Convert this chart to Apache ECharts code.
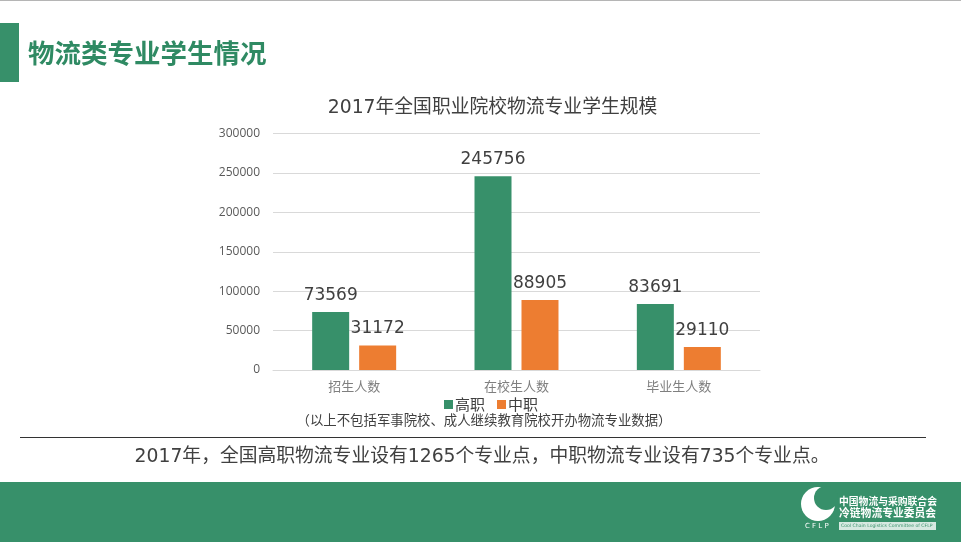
<!DOCTYPE html>
<html>
<head>
<meta charset="utf-8">
<style>
  html, body { margin: 0; padding: 0; background: #fff; }
  #chart { width: 961px; height: 542px; }
</style>
<script src="https://cdn.jsdelivr.net/npm/echarts@6/dist/echarts.min.js"></script>
</head>
<body>
<div id="chart"></div>
<script>
const categories = ["招生人数", "在校生人数", "毕业生人数"];
const gaozhi = [73569, 245756, 83691];
const zhongzhi = [31172, 88905, 29110];

const GREEN = "#37906a";
const ORANGE = "#ed7d31";
const CJK = '"Noto Sans CJK SC", "DejaVu Sans", sans-serif';
const WIDE = '"DejaVu Sans", "Noto Sans CJK SC", sans-serif';

function barLabel() {
  return { show: true, position: "top", distance: 8, fontFamily: WIDE, fontSize: 17, color: "#404040" };
}

const chart = echarts.init(document.getElementById("chart"));

chart.setOption({
  animation: false,
  backgroundColor: "#fff",
  title: {
    text: "2017年全国职业院校物流专业学生规模",
    left: 487.5,
    top: 94,
    textAlign: "center",
    textStyle: { fontFamily: WIDE, fontSize: 18.8, fontWeight: "normal", color: "#404040" }
  },
  legend: {
    left: 439,
    top: 392,
    itemWidth: 9,
    itemHeight: 9,
    itemGap: 12,
    icon: "rect",
    textStyle: { fontFamily: CJK, fontSize: 15, color: "#404040", padding: [0, 0, 0, -3] },
    data: ["高职", "中职"]
  },
  grid: { left: 273, right: 201, top: 133.5, height: 236.5 },
  xAxis: {
    type: "category",
    data: categories,
    axisTick: { show: false },
    axisLine: { lineStyle: { color: "#d9d9d9" } },
    axisLabel: { fontFamily: CJK, fontSize: 13, color: "#7f7f7f", margin: 10 }
  },
  yAxis: {
    type: "value",
    min: 0,
    max: 300000,
    interval: 50000,
    axisLine: { show: false },
    axisTick: { show: false },
    axisLabel: {
      fontFamily: '"Open Sans", sans-serif',
      fontSize: 12,
      color: "#595959",
      margin: 13,
      formatter: (v) => String(v)
    },
    splitLine: { lineStyle: { color: "#d9d9d9" } }
  },
  series: [
    {
      name: "高职",
      type: "bar",
      data: gaozhi,
      barWidth: 37,
      barGap: "27%",
      itemStyle: { color: GREEN },
      label: barLabel()
    },
    {
      name: "中职",
      type: "bar",
      data: zhongzhi,
      barWidth: 37,
      itemStyle: { color: ORANGE },
      label: barLabel()
    }
  ],
  graphic: [
    { type: "rect", shape: { x: 0, y: 0, width: 961, height: 1 }, style: { fill: "#b5b5b5" } },
    { type: "rect", shape: { x: 0, y: 23, width: 19, height: 59 }, style: { fill: GREEN } },
    {
      type: "text", x: 28, y: 53,
      style: { text: "物流类专业学生情况", fontFamily: CJK, fontSize: 26.5, fontWeight: "bold", fill: "#2f8a63", textVerticalAlign: "middle" }
    },
    {
      type: "text", x: 484, y: 420,
      style: { text: "（以上不包括军事院校、成人继续教育院校开办物流专业数据）", fontFamily: CJK, fontSize: 13.4, fill: "#404040", textAlign: "center", textVerticalAlign: "middle" }
    },
    { type: "rect", shape: { x: 20, y: 437, width: 906, height: 1 }, style: { fill: "#333" } },
    {
      type: "text", x: 482, y: 457,
      style: { text: "2017年，全国高职物流专业设有1265个专业点，中职物流专业设有735个专业点。", fontFamily: WIDE, fontSize: 18.8, fill: "#404040", textAlign: "center", textVerticalAlign: "middle" }
    },
    { type: "rect", shape: { x: 0, y: 482, width: 961, height: 60 }, style: { fill: GREEN } },
    { type: "circle", shape: { cx: 818, cy: 504, r: 17 }, style: { fill: "#fff" } },
    { type: "circle", shape: { cx: 826, cy: 498, r: 12 }, style: { fill: GREEN } },
    {
      type: "text", x: 839, y: 501,
      style: { text: "中国物流与采购联合会", fontFamily: CJK, fontSize: 9.8, fontWeight: "bold", fill: "#fff", textVerticalAlign: "middle" }
    },
    {
      type: "text", x: 839, y: 513,
      style: { text: "冷链物流专业委员会", fontFamily: CJK, fontSize: 10.8, fontWeight: "bold", fill: "#fff", textVerticalAlign: "middle" }
    },
    {
      type: "text", x: 805, y: 526,
      style: { text: "C F L P", fontFamily: WIDE, fontSize: 7, fill: "#fff", textVerticalAlign: "middle" }
    },
    { type: "rect", shape: { x: 839, y: 522, width: 97, height: 8 }, style: { fill: "#d7e9e1" } },
    {
      type: "text", x: 841, y: 526,
      style: { text: "Cool Chain Logistics Committee of CFLP", fontFamily: WIDE, fontSize: 4.6, fill: GREEN, textVerticalAlign: "middle" }
    }
  ]
});
</script>
</body>
</html>
